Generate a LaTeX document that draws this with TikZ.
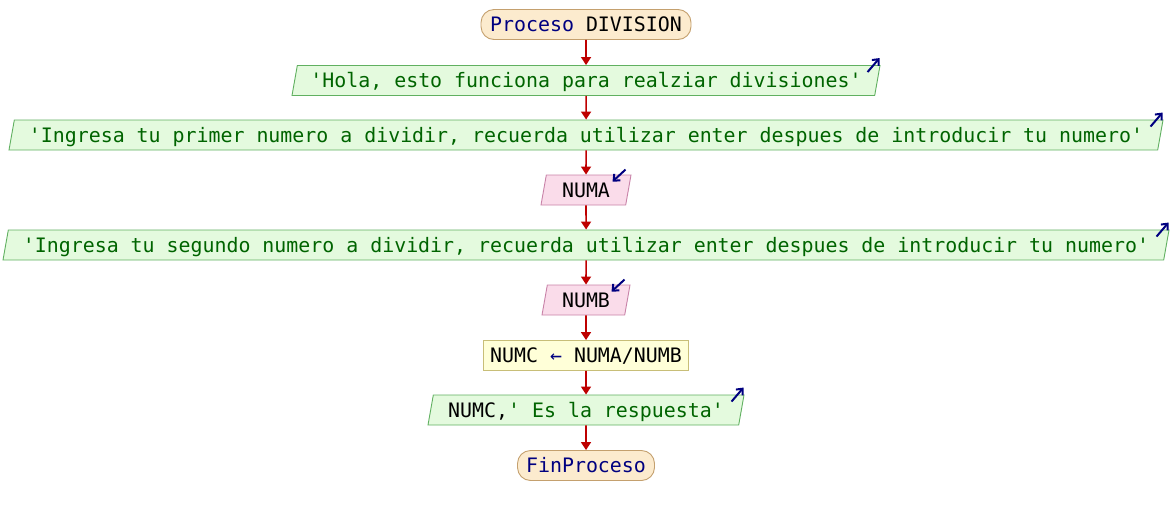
\documentclass[tikz,border=0pt]{standalone}
\usepackage{fontspec}
\setmonofont{DejaVu Sans Mono}
\usetikzlibrary{shapes.geometric,arrows.meta}
\definecolor{termfill}{RGB}{252,235,206}
\definecolor{termdraw}{RGB}{196,160,110}
\definecolor{outfill}{RGB}{228,250,222}
\definecolor{outdraw}{RGB}{96,176,96}
\definecolor{infill}{RGB}{250,220,234}
\definecolor{indraw}{RGB}{200,130,168}
\definecolor{procfill}{RGB}{255,255,216}
\definecolor{procdraw}{RGB}{200,190,120}
\definecolor{flowred}{RGB}{190,0,0}
\definecolor{kwblue}{RGB}{0,0,128}
\definecolor{strgreen}{RGB}{0,100,0}
\tikzset{
  base/.style={minimum height=30pt, inner sep=0pt, line width=0.9pt, text height=14.6pt, text depth=0pt},
  term/.style={base, rectangle, rounded corners=13pt, fill=termfill, draw=termdraw},
  proc/.style={base, rectangle, fill=procfill, draw=procdraw},
  para/.style={base, trapezium, trapezium left angle=70, trapezium right angle=110, trapezium stretches body},
  outbox/.style={para, fill=outfill, draw=outdraw, text=strgreen},
  inbox/.style={para, fill=infill, draw=indraw},
  flow/.style={draw=flowred, line width=1.6pt, -{Triangle[length=8pt,width=10pt]}},
  icon/.style={draw=kwblue, line width=2pt, -{Straight Barb[length=5pt,width=9pt]}}
}
\begin{document}
\begin{tikzpicture}[x=1pt, y=-1pt, font=\ttfamily\fontsize{19.9}{22}\selectfont]
\useasboundingbox (0,0) rectangle (1172,515);
\node[term, minimum width=210pt] (t1) at (586,24.5) {{\color{kwblue}Proceso} DIVISION};
\node[outbox, minimum width=588pt] (hola) at (586,80.5) {'Hola, esto funciona para realziar divisiones'};
\node[outbox, minimum width=1154pt] (primer) at (586,135) {'Ingresa tu primer numero a dividir, recuerda utilizar enter despues de introducir tu numero'};
\node[inbox, minimum width=90pt] (numa) at (586,190) {NUMA};
\node[outbox, minimum width=1166pt] (segundo) at (586,245) {'Ingresa tu segundo numero a dividir, recuerda utilizar enter despues de introducir tu numero'};
\node[inbox, minimum width=88pt] (numb) at (586,300) {NUMB};
\node[proc, minimum width=205pt] (calc) at (586,355.5) {NUMC {\color{kwblue}←} NUMA/NUMB};
\node[outbox, minimum width=316pt] (res) at (586,410) {{\color{black}NUMC,}' Es la respuesta'};
\node[term, minimum width=137pt] (fin) at (586,465.5) {{\color{kwblue}FinProceso}};
\draw[flow] (t1.south) -- (hola.north);
\draw[flow] (hola.south) -- (primer.north);
\draw[flow] (primer.south) -- (numa.north);
\draw[flow] (numa.south) -- (segundo.north);
\draw[flow] (segundo.south) -- (numb.north);
\draw[flow] (numb.south) -- (calc.north);
\draw[flow] (calc.south) -- (res.north);
\draw[flow] (res.south) -- (fin.north);
\draw[icon] ([shift={(-13,7)}]hola.top right corner) -- ++(12,-14);
\draw[icon] ([shift={(-13,7)}]primer.top right corner) -- ++(12,-14);
\draw[icon] ([shift={(-13,7)}]segundo.top right corner) -- ++(12,-14);
\draw[icon] ([shift={(-13,7)}]res.top right corner) -- ++(12,-14);
\draw[icon] ([shift={(-6,-5)}]numa.top right corner) -- ++(-13,12);
\draw[icon] ([shift={(-6,-5)}]numb.top right corner) -- ++(-13,12);
\end{tikzpicture}
\end{document}
